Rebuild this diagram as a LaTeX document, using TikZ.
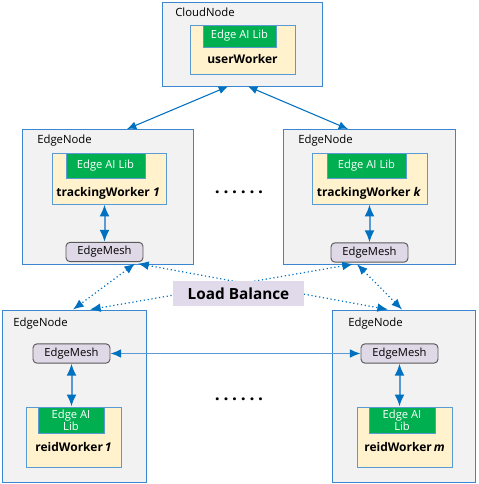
\documentclass[tikz,border=0pt]{standalone}
\usepackage{fontspec}
\setmainfont{Open Sans}
\usetikzlibrary{fit,arrows.meta,calc}
\definecolor{boxblue}{HTML}{3A86D0}
\definecolor{nodegray}{HTML}{F2F2F2}
\definecolor{workyellow}{HTML}{FFF2CC}
\definecolor{workborder}{HTML}{5B9BD5}
\definecolor{libgreen}{HTML}{00B050}
\definecolor{meshfill}{HTML}{DFD8E7}
\definecolor{meshborder}{HTML}{595959}
\definecolor{lbfill}{HTML}{E1DAEA}
\definecolor{arrblue}{HTML}{0070C0}
\definecolor{arrline}{HTML}{5B9BD5}
\begin{document}
\begin{tikzpicture}[x=0.75pt,y=-0.75pt,
  outerbox/.style={draw=boxblue,fill=nodegray,line width=0.7pt,inner sep=0pt},
  workerbox/.style={draw=workborder,fill=workyellow,line width=0.7pt,inner sep=0pt},
  libbox/.style={draw=workborder,fill=libgreen,line width=0.5pt,inner sep=0pt},
  meshbox/.style={draw=meshborder,fill=meshfill,line width=0.7pt,rounded corners=3pt,inner sep=0pt,minimum width=57.75pt,minimum height=14.5pt,font=\fontsize{8.4}{10}\selectfont},
  boxlabel/.style={anchor=west,inner sep=0pt,font=\fontsize{8.5}{10}\selectfont},
  libtext/.style={inner sep=0pt,text=white,align=center,font=\fontsize{8.4}{9}\selectfont},
  worktext/.style={inner sep=0pt,font=\bfseries\fontsize{9}{11}\selectfont},
  dotstext/.style={inner sep=0pt,font=\bfseries\fontsize{13}{13}\selectfont},
  thinarrow/.style={draw=arrblue,line width=0.8pt,{Latex[length=7pt,width=6pt]}-{Latex[length=7pt,width=6pt]}},
  wmarrow/.style={draw=arrline,line width=1.5pt,{Latex[length=9pt,width=7.5pt,color=arrblue]}-{Latex[length=9pt,width=7.5pt,color=arrblue]}},
  harrow/.style={draw=arrline,line width=1pt,{Latex[length=8pt,width=6.5pt,color=arrblue]}-{Latex[length=8pt,width=6.5pt,color=arrblue]}},
  dotarrow/.style={draw=arrblue,line width=0.9pt,dotted,{Latex[length=8pt,width=6.5pt]}-{Latex[length=8pt,width=6.5pt]}},
  lbstyle/.style={fill=lbfill,inner sep=0pt,minimum width=98pt,minimum height=19pt,font=\bfseries\fontsize{11.5}{13}\selectfont}
]
\useasboundingbox (0,0) rectangle (478,484);

% outer boxes
\node[outerbox,fit={(162,2) (322,86)}] (cloud) {};
\node[outerbox,fit={(22,129.5) (193,264)}] (edge1) {};
\node[outerbox,fit={(283,129.5) (455,264)}] (edge2) {};
\node[outerbox,fit={(2,310) (146,482)}] (edge3) {};
\node[outerbox,fit={(332,310) (475,482)}] (edge4) {};

\node[boxlabel] (cloudlbl) at (175,12.5) {CloudNode};
\node[boxlabel] (edge1lbl) at (37,141) {EdgeNode};
\node[boxlabel] (edge2lbl) at (298,141) {EdgeNode};
\node[boxlabel] (edge3lbl) at (13,324) {EdgeNode};
\node[boxlabel] (edge4lbl) at (348,324) {EdgeNode};

% cloud worker
\node[workerbox,fit={(190,25) (295,74)}] (uw) {};
\node[libbox,fit={(203,25) (276,47)}] (uwlib) {};
\node[libtext] (uwlibt) at (uwlib.center) {Edge AI Lib};
\node[worktext] (uwt) at (242.5,59) {userWorker};

% tracking worker 1
\node[workerbox,fit={(52,153) (166,204)}] (tw1) {};
\node[libbox,fit={(66,153) (145,178)}] (tw1lib) {};
\node[libtext] (tw1libt) at (tw1lib.center) {Edge AI Lib};
\node[worktext] (tw1t) at (108,193) {trackingWorker \textit{1}};
\node[meshbox] (mesh1) at (104.5,252) {EdgeMesh};

% tracking worker k
\node[workerbox,fit={(312,153) (427,204)}] (tw2) {};
\node[libbox,fit={(327,153) (406,178)}] (tw2lib) {};
\node[libtext] (tw2libt) at (tw2lib.center) {Edge AI Lib};
\node[worktext] (tw2t) at (369,193) {trackingWorker \textit{k}};
\node[meshbox] (mesh2) at (369.5,252.5) {EdgeMesh};

% reid worker 1
\node[meshbox] (mesh3) at (71.5,353.5) {EdgeMesh};
\node[workerbox,fit={(26,407) (121,467)}] (rw1) {};
\node[libbox,fit={(38,407) (104,433)}] (rw1lib) {};
\node[libtext] (rw1libt) at (rw1lib.center) {Edge AI\\Lib};
\node[worktext] (rw1t) at (73.5,447) {reidWorker\,\textit{1}};

% reid worker m
\node[meshbox] (mesh4) at (399.5,353.5) {EdgeMesh};
\node[workerbox,fit={(357,407) (452,467)}] (rw2) {};
\node[libbox,fit={(369,407) (435,433)}] (rw2lib) {};
\node[libtext] (rw2libt) at (rw2lib.center) {Edge AI\\Lib};
\node[worktext] (rw2t) at (404.5,447) {reidWorker\,\textit{m}};

% dots
\node[dotstext] (dots1) at (239,192) {.\kern2.8pt.\kern2.8pt.\kern2.8pt.\kern2.8pt.\kern2.8pt.};
\node[dotstext] (dots2) at (239,399) {.\kern2.8pt.\kern2.8pt.\kern2.8pt.\kern2.8pt.\kern2.8pt.};

% cloud arrows
\draw[thinarrow] ($(cloud.south)+(-14,0)$) -- ($(edge1.north)+(19.5,0)$);
\draw[thinarrow] ($(cloud.south)+(6,0)$) -- ($(edge2.north)+(-21,0)$);

% worker - mesh arrows
\draw[wmarrow] (tw1.south -| mesh1.north) -- (mesh1.north);
\draw[wmarrow] (tw2.south -| mesh2.north) -- (mesh2.north);
\draw[wmarrow] (mesh3.south) -- (mesh3.south |- rw1.north);
\draw[wmarrow] (mesh4.south) -- (mesh4.south |- rw2.north);

% horizontal mesh arrow
\draw[harrow] (mesh3.east) -- (mesh4.west);

% dotted load balance arrows
\draw[dotarrow] ($(mesh1.south)+(30.5,1.5)$) -- ($(edge3.north)+(-1,0)$);
\draw[dotarrow] ($(mesh1.south)+(33.5,1.5)$) -- ($(edge4.north)+(-15.5,0)$);
\draw[dotarrow] ($(mesh2.south)+(-16.5,1.5)$) -- ($(edge3.north)+(16,0)$);
\draw[dotarrow] ($(mesh2.south)+(-12.5,1.5)$) -- ($(edge4.north)+(-1.5,0)$);

\node[lbstyle] (lb) at (238.5,293.5) {Load Balance};
\end{tikzpicture}
\end{document}
